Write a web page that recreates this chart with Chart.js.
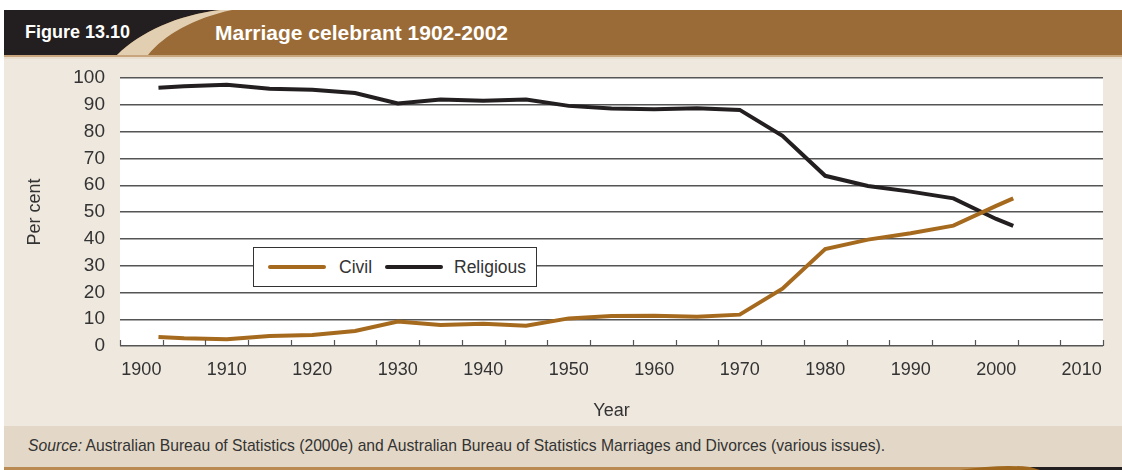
<!DOCTYPE html>
<html>
<head>
<meta charset="utf-8">
<script src="https://cdn.jsdelivr.net/npm/chart.js@4.4.1/dist/chart.umd.min.js"></script>
<style>
  body { margin: 0; background: #fff; }
  #wrap { position: relative; width: 1122px; height: 470px; overflow: hidden; font-family: 'Liberation Sans', Arial, sans-serif; }
  #bg { position: absolute; left: 0; top: 0; }
  .head { position: absolute; color: #fff; font-weight: bold; white-space: nowrap; line-height: 1; }
  #chartBox { position: absolute; left: 0; top: 51px; width: 1122px; height: 375px; }
  #legend { position: absolute; left: 253px; top: 247px; width: 282px; height: 38px; border: 1px solid #333; background: #fff; }
  #legend .item { position: absolute; top: 0; height: 38px; line-height: 38px; font-size: 17.5px; color: #333; }
  #legend .swatch { position: absolute; top: 17px; width: 58px; height: 4px; border-radius: 2px; }
  #source { position: absolute; left: 28px; top: 437px; font-size: 15.7px; color: #333; white-space: nowrap; }
</style>
</head>
<body>
<div id="wrap">
  <svg id="bg" width="1122" height="470">
    <rect x="4" y="57" width="1118" height="370" fill="#efe8df"/>
    <rect x="4" y="426" width="1118" height="41" fill="#e3d8c7"/>
    <rect x="4" y="10" width="1118" height="45" fill="#9a6b36"/>
    <rect x="4" y="55" width="1118" height="2" fill="#c8a57c"/>
    <rect x="4" y="57" width="1118" height="2" fill="#e9dece"/>
    <path d="M4 10 L220 10 C178 15 140 32 117 55 L4 55 Z" fill="#231f20"/>
    <path d="M117 55 C140 32 178 15 220 10 L232 10 C194 18 164 35 148 55 Z" fill="#e2cfb2"/>
    <rect x="4" y="467" width="1118" height="3" fill="#b98a52"/>
    <path d="M960 470 Q1000 464 1030 467 L1122 467 L1122 470 Z" fill="#a0671e"/>
    <path d="M1030 467 L1122 467 L1122 470 L1040 470 Z" fill="#231f20"/>
  </svg>
  <div class="head" style="left:25px; top:23px; font-size:18px;">Figure 13.10</div>
  <div class="head" style="left:215px; top:22px; font-size:21px;">Marriage celebrant 1902-2002</div>
  <div id="chartBox"><canvas id="myChart"></canvas></div>
  <div id="legend"></div>
  <div id="source"><i>Source:</i> Australian Bureau of Statistics (2000e) and Australian Bureau of Statistics Marriages and Divorces (various issues).</div>
</div>
<script>
// data
const years = [1902, 1905, 1910, 1915, 1920, 1925, 1930, 1935, 1940, 1945, 1950, 1955, 1960, 1965, 1970, 1975, 1980, 1985, 1990, 1995, 2000, 2002];
const civil = [3.4, 2.9, 2.5, 3.7, 4.1, 5.6, 9.1, 7.8, 8.3, 7.6, 10.3, 11.2, 11.3, 10.9, 11.7, 21.4, 36.2, 39.7, 42.1, 44.9, 52.3, 55.1];
const religious = [96.4, 96.9, 97.5, 96.0, 95.6, 94.4, 90.5, 92.0, 91.5, 92.0, 89.6, 88.6, 88.3, 88.7, 88.1, 78.4, 63.5, 59.7, 57.6, 55.1, 47.4, 44.8];
const xTickLabels = [1900, 1910, 1920, 1930, 1940, 1950, 1960, 1970, 1980, 1990, 2000, 2010];
const yTickLabels = [0, 10, 20, 30, 40, 50, 60, 70, 80, 90, 100];

const seriesNames = ['Civil', 'Religious'];
const seriesColors = ['#a66a1e', '#231f20'];

const FONT = "'Liberation Sans', Arial, sans-serif";
const X_MIN = 1897.5, X_MAX = 2012.5;

function toPoints(vals) {
  return years.map((y, i) => ({ x: y, y: vals[i] }));
}

// white plot area + short inner tick marks on the x axis
const plotDeco = {
  id: 'plotDeco',
  beforeDraw(chart) {
    const a = chart.chartArea, c = chart.ctx;
    c.save();
    c.fillStyle = '#fff';
    c.fillRect(a.left, a.top, a.right - a.left, a.bottom - a.top);
    c.restore();
  },
  afterDatasetsDraw(chart) {
    const a = chart.chartArea, c = chart.ctx, xs = chart.scales.x;
    c.save();
    c.strokeStyle = '#555';
    c.lineWidth = 1.2;
    for (let v = X_MIN; v <= X_MAX + 0.01; v += 5) {
      const px = Math.round(xs.getPixelForValue(v)) + 0.5;
      c.beginPath();
      c.moveTo(px, a.bottom);
      c.lineTo(px, a.bottom - 6);
      c.stroke();
    }
    c.restore();
  }
};

const ctx = document.getElementById('myChart');
const chart = new Chart(ctx, {
  type: 'line',
  data: {
    datasets: [{
      label: seriesNames[0],
      data: toPoints(civil),
      borderColor: seriesColors[0],
      borderWidth: 4,
      pointRadius: 0,
      tension: 0
    }, {
      label: seriesNames[1],
      data: toPoints(religious),
      borderColor: seriesColors[1],
      borderWidth: 4,
      pointRadius: 0,
      tension: 0
    }]
  },
  options: {
    responsive: true,
    maintainAspectRatio: false,
    animation: false,
    layout: { padding: { top: 0, right: 19, left: 0, bottom: 0 } },
    plugins: {
      legend: { display: false },
      tooltip: { enabled: false }
    },
    scales: {
      x: {
        type: 'linear',
        min: X_MIN,
        max: X_MAX,
        afterBuildTicks: (scale) => { scale.ticks = xTickLabels.map(v => ({ value: v })); },
        afterFit: (scale) => { scale.height = 80; },
        grid: { display: false, drawTicks: false },
        border: { display: false },
        ticks: {
          padding: 13,
          maxRotation: 0,
          autoSkip: false,
          color: '#333',
          font: { family: FONT, size: 18 },
          callback: (v) => String(v)
        },
        title: {
          display: true,
          text: 'Year',
          color: '#333',
          padding: { top: 0, bottom: 4 },
          font: { family: FONT, size: 18 }
        }
      },
      y: {
        min: 0,
        max: 100,
        afterBuildTicks: (scale) => { scale.ticks = yTickLabels.map(v => ({ value: v })); },
        afterFit: (scale) => { scale.width = 120; },
        grid: { color: '#555', lineWidth: 1.4, drawTicks: false },
        border: { display: false },
        ticks: {
          padding: 15,
          autoSkip: false,
          color: '#333',
          font: { family: FONT, size: 19, lineHeight: '24px' }
        },
        title: {
          display: true,
          text: 'Per cent',
          color: '#333',
          padding: { top: 24, bottom: 0 },
          font: { family: FONT, size: 18 }
        }
      }
    }
  },
  plugins: [plotDeco]
});

// legend box built from the datasets
const legendEl = document.getElementById('legend');
const itemPos = [{ sw: 14, tx: 85 }, { sw: 131, tx: 200 }];
chart.data.datasets.forEach((ds, i) => {
  const sw = document.createElement('div');
  sw.className = 'swatch';
  sw.style.left = itemPos[i].sw + 'px';
  sw.style.background = ds.borderColor;
  legendEl.appendChild(sw);
  const tx = document.createElement('div');
  tx.className = 'item';
  tx.style.left = itemPos[i].tx + 'px';
  tx.textContent = ds.label;
  legendEl.appendChild(tx);
});
</script>
</body>
</html>
